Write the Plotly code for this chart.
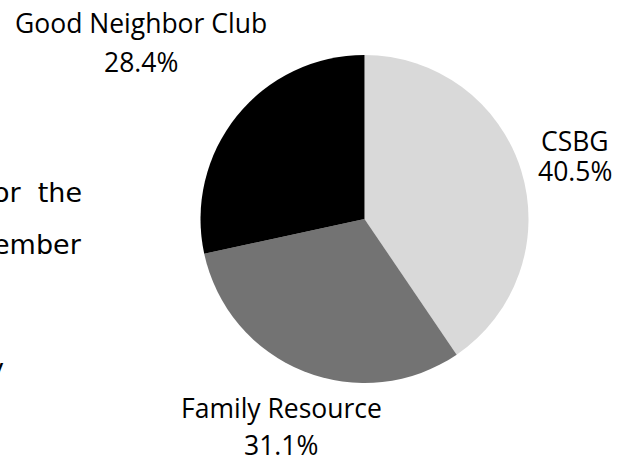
"""
Funding sources pie chart: CSBG / Family Resource / Good Neighbor Club.
"""
import plotly.graph_objects as go

# ---------------------------------------------------------------------------
# Data
# ---------------------------------------------------------------------------
SOURCES = ["CSBG", "Family Resource", "Good Neighbor Club"]
SHARES = [40.5, 31.1, 28.4]
COLORS = ["#d9d9d9", "#737373", "#000000"]

# clipped paragraph text peeking in at the left edge
SIDE_TEXT = ["or\u00a0\u00a0the", "ember", "y"]

# ---------------------------------------------------------------------------
# Layout constants (pixels in a 626x459 canvas)
# ---------------------------------------------------------------------------
W, H = 626, 459
CX, CY, R = 364.5, 219, 164

# label centres: (x, name y, percent y)
LABEL_POS = [(575, 141, 171), (281, 408, 445), (141, 23, 62)]
SIDE_POS = [(84, 192), (84, 244), (6, 368)]

FONT = "Open Sans"
LABEL_SIZE = 26.5


def px(x):
    return x / W


def py(y):
    return 1 - y / H


fig = go.Figure()

fig.add_trace(go.Pie(
    labels=SOURCES,
    values=SHARES,
    marker=dict(colors=COLORS, line=dict(width=0)),
    sort=False,
    direction="clockwise",
    rotation=0,
    textinfo="none",
    hoverinfo="label+percent",
    showlegend=False,
    domain=dict(x=[px(CX - R), px(CX + R)], y=[py(CY + R), py(CY - R)]),
))

# slice labels
for name, share, (lx, ny, vy) in zip(SOURCES, SHARES, LABEL_POS):
    fig.add_annotation(
        x=px(lx), y=py(ny), xref="paper", yref="paper",
        text=name, showarrow=False, xanchor="center", yanchor="middle",
        font=dict(family=FONT, size=LABEL_SIZE, color="#000000"),
    )
    fig.add_annotation(
        x=px(lx), y=py(vy), xref="paper", yref="paper",
        text=f"{share:.1f}%", showarrow=False, xanchor="center", yanchor="middle",
        font=dict(family=FONT, size=LABEL_SIZE, color="#000000"),
    )

for txt, (sx, sy) in zip(SIDE_TEXT, SIDE_POS):
    fig.add_annotation(
        x=px(sx), y=py(sy), xref="paper", yref="paper",
        text=txt, showarrow=False, xanchor="right", yanchor="middle",
        font=dict(family="DejaVu Sans", size=27, color="#000000"),
    )

fig.update_layout(
    width=W,
    height=H,
    margin=dict(l=0, r=0, t=0, b=0),
    paper_bgcolor="#ffffff",
    plot_bgcolor="#ffffff",
)

# drop the default 8px body margin so the chart sits flush in the window
fig.write_html(
    "out.html",
    config={"displayModeBar": False},
    post_script="document.body.style.margin='0';",
)
